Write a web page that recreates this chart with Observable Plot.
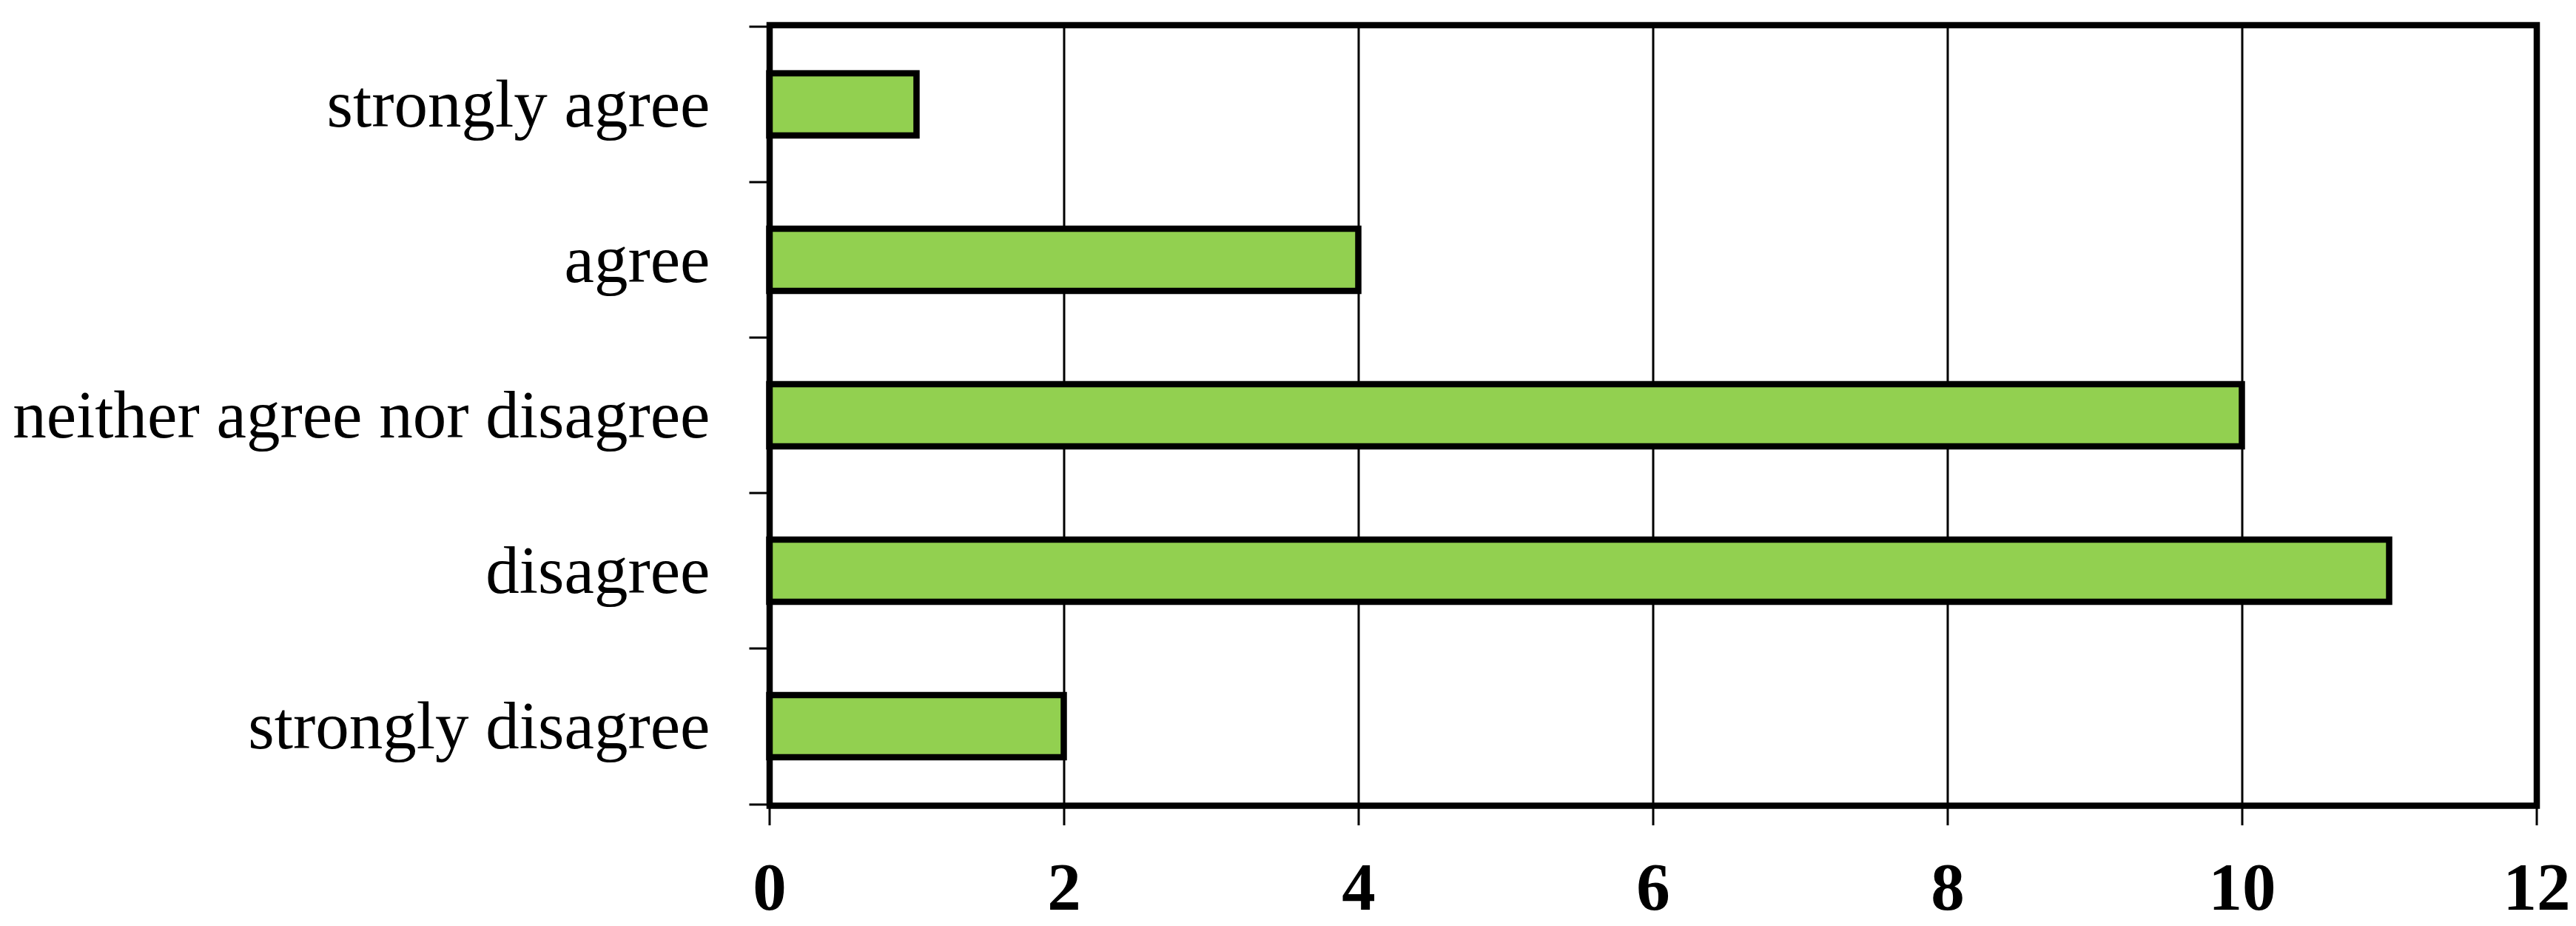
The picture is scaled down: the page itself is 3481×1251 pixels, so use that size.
<!DOCTYPE html>
<html>
<head>
<meta charset="utf-8">
<script src="https://cdn.jsdelivr.net/npm/d3@7"></script>
<script src="https://cdn.jsdelivr.net/npm/@observablehq/plot@0.6"></script>
<style>
  html, body { margin: 0; padding: 0; background: #fff; }
  #chart svg { display: block; }
</style>
</head>
<body>
<div id="chart"></div>
<script>
const categories = ["strongly agree", "agree", "neither agree nor disagree", "disagree", "strongly disagree"];
const counts = [1, 4, 10, 11, 2];
const xTicks = [0, 2, 4, 6, 8, 10, 12];
const gridTicks = [2, 4, 6, 8, 10];

const data = categories.map((c, i) => ({category: c, count: counts[i]}));

const W = 3481, H = 1251;
const mTop = 33.5, mBottom = 163, mLeft = 1039.5, mRight = 53.5;
const step = (H - mTop - mBottom) / categories.length;

const chart = Plot.plot({
  width: W,
  height: H,
  marginTop: mTop,
  marginBottom: mBottom,
  marginLeft: mLeft,
  marginRight: mRight,
  style: {fontFamily: "'Liberation Serif', 'Times New Roman', serif", fontSize: "91px", color: "black", background: "white"},
  x: {domain: [0, 12]},
  y: {domain: categories, paddingInner: 0.6, paddingOuter: 0.3},
  marks: [
    Plot.gridX(gridTicks, {stroke: "black", strokeOpacity: 1, strokeWidth: 3}),
    Plot.barX(data, {y: "category", x: "count", fill: "#92D050", stroke: "black", strokeWidth: 8.5}),
    Plot.axisX(xTicks, {anchor: "bottom", tickSize: 27, tickPadding: 49, strokeWidth: 3, fontWeight: "bold", tickFormat: d => String(d), label: null}),
    Plot.axisY({anchor: "left", tickSize: 0, tickPadding: 80.5, label: null}),
    Plot.axisY({anchor: "left", tickSize: 27, strokeWidth: 3, text: null, label: null, dy: -step / 2}),
    Plot.axisY(categories.slice(-1), {anchor: "left", tickSize: 27, strokeWidth: 3, text: null, label: null, dy: step / 2}),
    Plot.frame({stroke: "black", strokeWidth: 8.5})
  ]
});
document.getElementById("chart").appendChild(chart);
</script>
</body>
</html>
